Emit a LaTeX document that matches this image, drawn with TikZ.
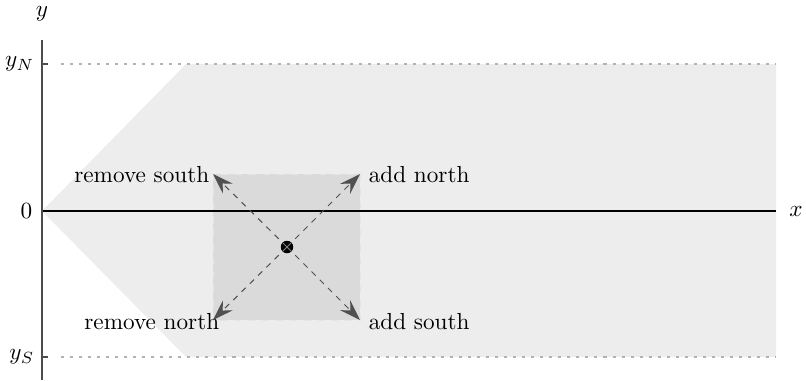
\documentclass[tikz,border=0pt]{standalone}
\usetikzlibrary{arrows.meta}
\definecolor{regionfill}{RGB}{237,237,237}
\definecolor{boxfill}{RGB}{218,218,218}
\definecolor{arrowgray}{RGB}{80,80,80}
\begin{document}
\begin{tikzpicture}[x=0.431pt,y=-0.431pt,
  lab/.style={inner sep=1pt},
  movearrow/.style={draw=arrowgray,dash pattern=on 2.5pt off 2.5pt,line width=0.45pt,-{Stealth[length=9pt,width=6pt,inset=3.2pt,fill=arrowgray]}},
  guide/.style={draw=gray!60,dash pattern=on 1.3pt off 2.6pt,line width=0.45pt}]
\useasboundingbox (0,0) rectangle (806,380);
% region
\fill[regionfill] (42,211) -- (186,64) -- (776,64) -- (776,357) -- (186,357) -- cycle;
% box
\fill[boxfill] (213,174) rectangle (360,320);
\draw[boxfill!70!white,dashed,line width=0.3pt] (213,174) rectangle (360,320);
% guides
\coordinate (yn) at (42,64);
\coordinate (ynend) at (776,64);
\coordinate (ys) at (42,357);
\coordinate (ysend) at (776,357);
\draw[guide] ([xshift=8]yn) -- (ynend);
\draw[guide] ([xshift=8]ys) -- (ysend);
% axes
\coordinate (o) at (42,211);
\coordinate (xend) at (776,211);
\coordinate (ytop) at (42,40);
\coordinate (ybot) at (42,380);
\draw[black,line width=0.45pt] (o) -- (xend);
\draw[black!70,line width=0.5pt] (ybot) -- (ytop);
\draw[black!70,line width=0.5pt] (yn) -- ++(6,0);
\draw[black!70,line width=0.5pt] (ys) -- ++(6,0);
% labels
\node[lab] (ylab) at (42,14) {$y$};
\node[lab,anchor=east] (ynlab) at (37,64) {$y_N$};
\node[lab,anchor=east] (yslab) at (37,357) {$y_S$};
\node[lab,anchor=east] (zlab) at (35,211) {$0$};
\node[lab] (xlab) at (796,211) {$x$};
% arrows
\coordinate (c) at (287,247);
\coordinate (nw) at (213,174);
\coordinate (ne) at (360,174);
\coordinate (sw) at (213,320);
\coordinate (se) at (360,320);
\draw[movearrow] (c) -- (nw);
\draw[movearrow] (c) -- (ne);
\draw[movearrow] (c) -- (sw);
\draw[movearrow] (c) -- (se);
% marker
\node[circle,fill=black,minimum size=12.5*0.431pt,inner sep=0pt] (m) at (c) {};
\draw[gray,line width=0.45pt] ([shift={(-4,-4)}]c) -- ([shift={(4,4)}]c);
\draw[gray,line width=0.45pt] ([shift={(-4,4)}]c) -- ([shift={(4,-4)}]c);
% move labels
\node[lab,anchor=east] (rs) at (212,175) {remove south};
\node[lab,anchor=west] (an) at (366,175) {add north};
\node[lab,anchor=east] (rn) at (222,322) {remove north};
\node[lab,anchor=west] (as) at (366,322) {add south};
\end{tikzpicture}
\end{document}
